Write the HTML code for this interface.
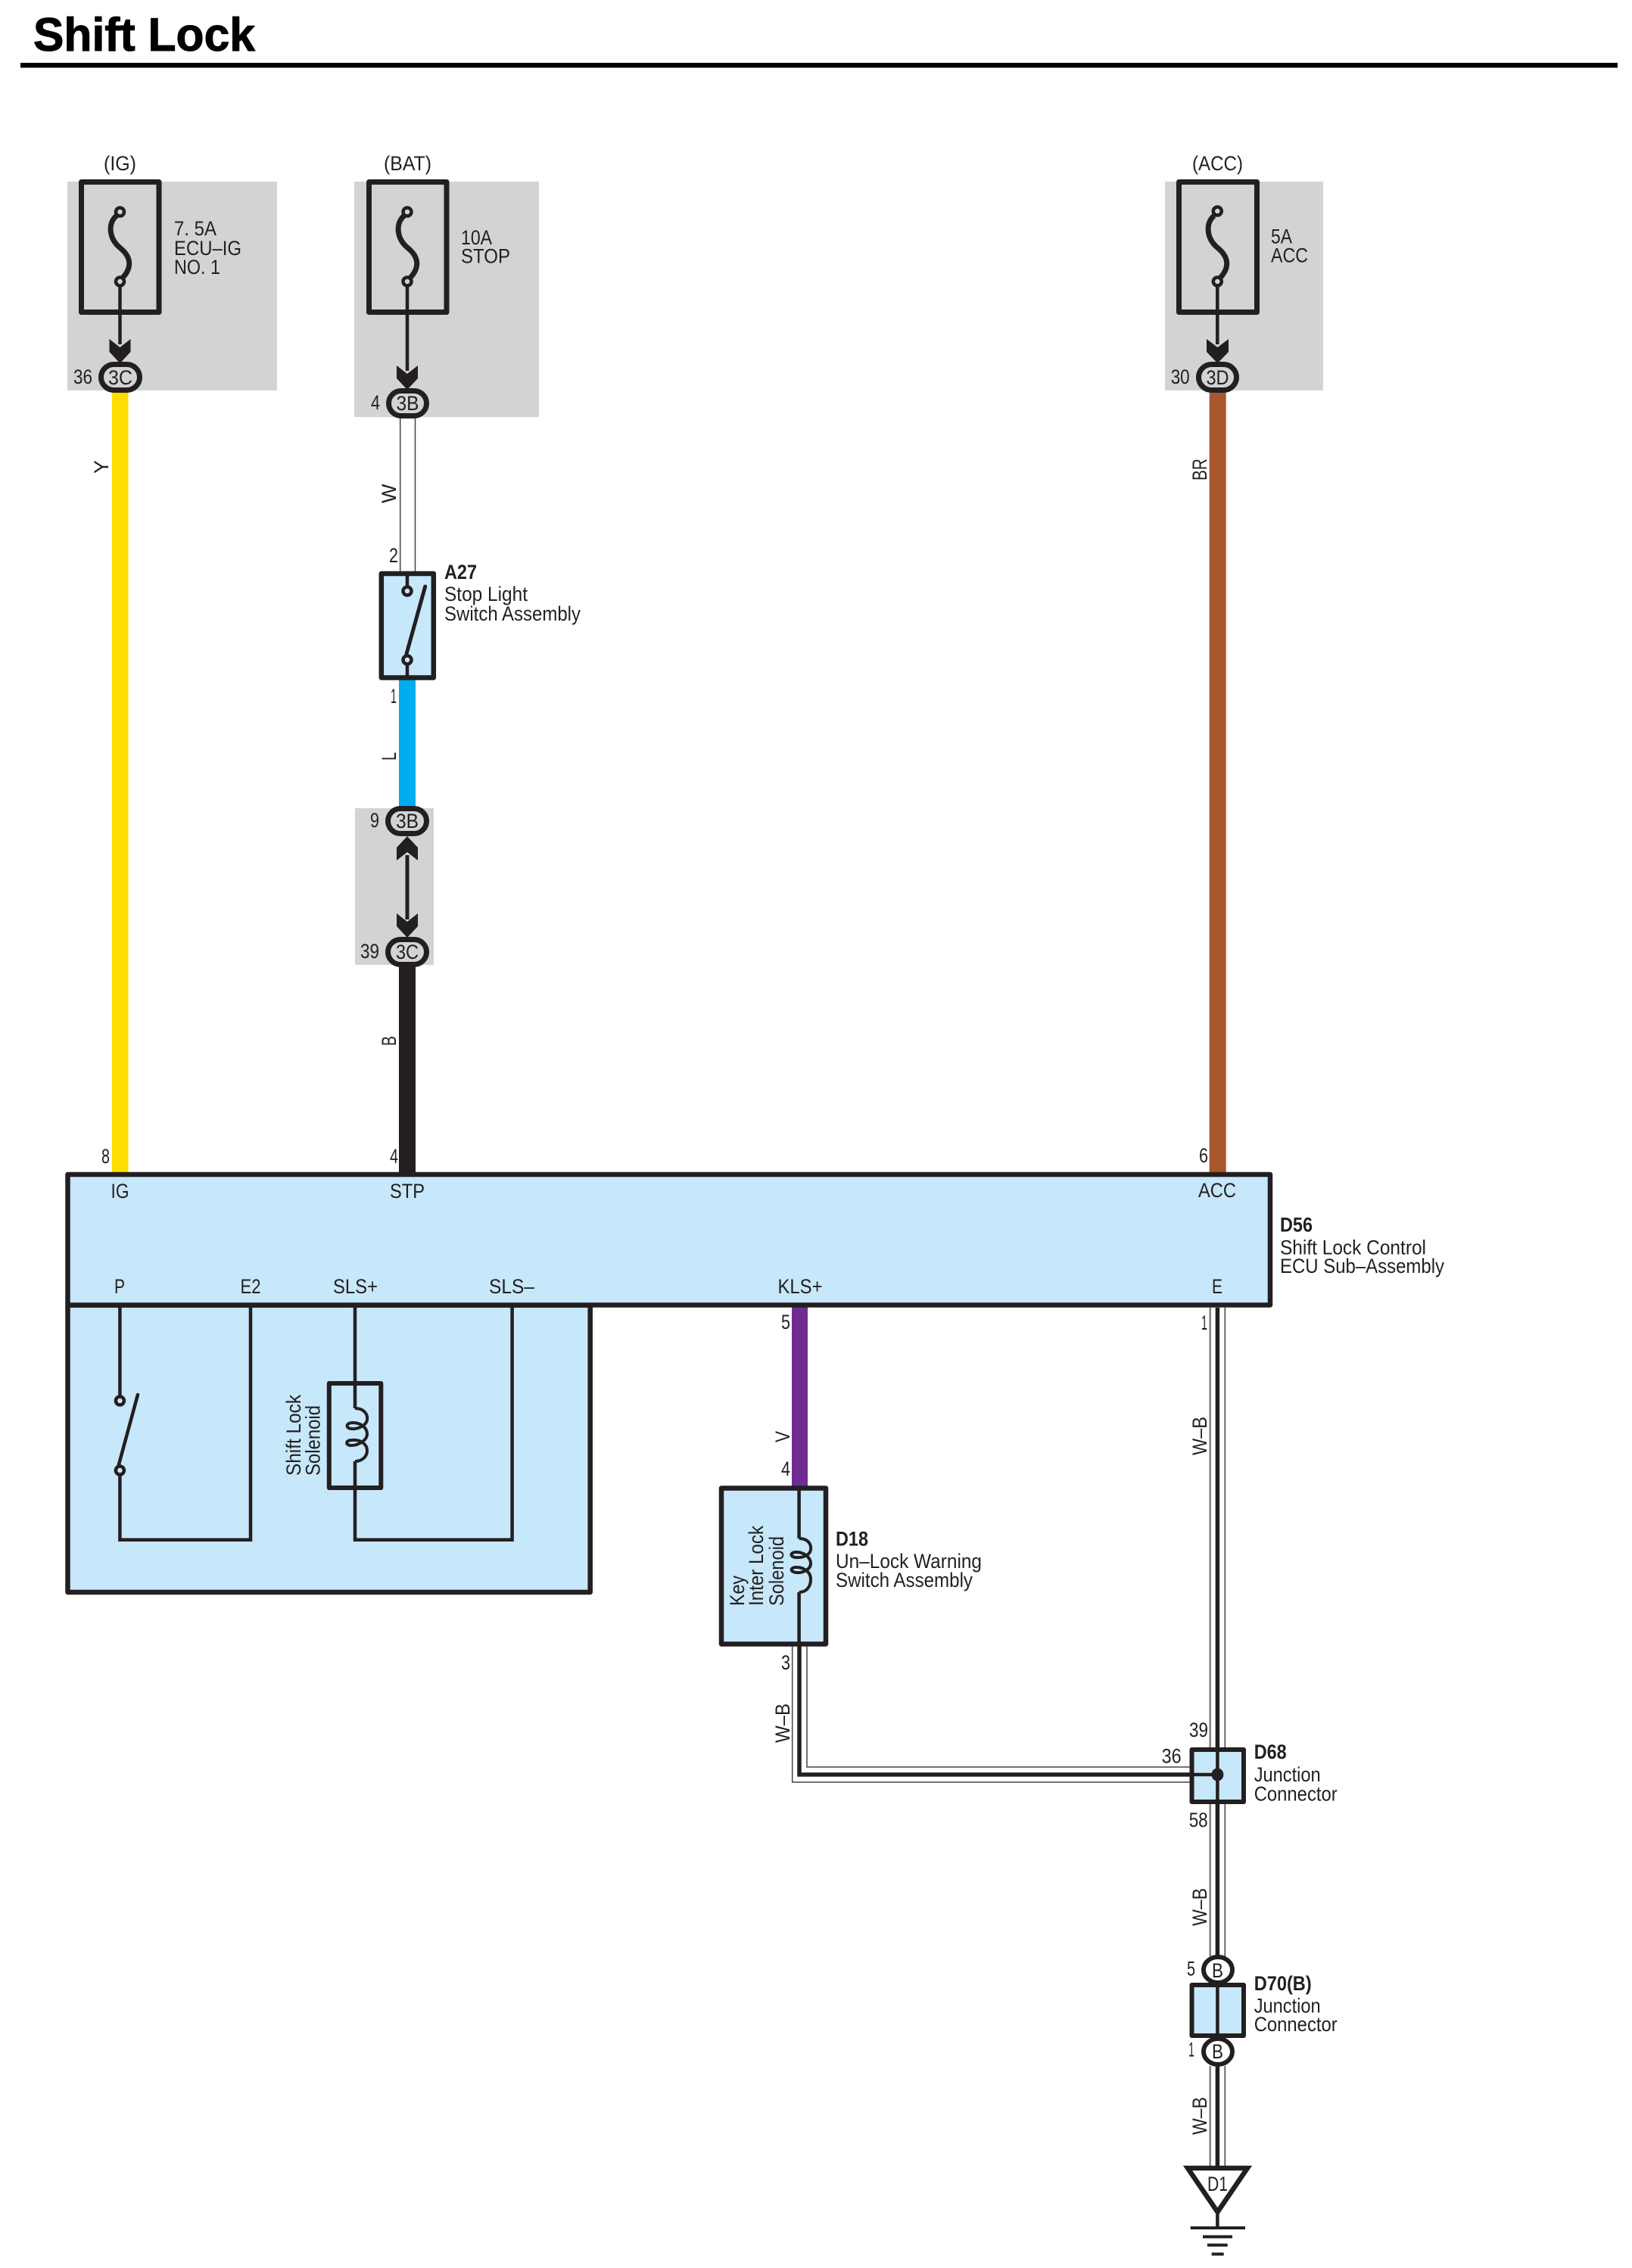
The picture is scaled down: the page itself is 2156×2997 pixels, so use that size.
<!DOCTYPE html>
<html><head><meta charset="utf-8"><title>Shift Lock</title>
<style>
html,body{margin:0;padding:0;background:#fff}
svg{display:block}
text{font-family:"Liberation Sans",sans-serif;font-size:27px;fill:#231f20}
.b{font-weight:bold}
.c{text-anchor:middle}
.w{fill:none;stroke:#231f20;stroke-width:4.5}
</style></head><body>
<svg xmlns="http://www.w3.org/2000/svg" width="2156" height="2997" viewBox="0 0 2156 2997">
<rect width="2156" height="2997" fill="#fff"/>
<!-- title -->
<text x="44" y="67" class="b" style="font-size:62px;fill:#000;stroke:#000;stroke-width:1" textLength="293" lengthAdjust="spacingAndGlyphs">Shift Lock</text>
<rect x="27" y="83" width="2110" height="6.5" fill="#000"/>

<!-- gray zones -->
<rect x="89" y="240" width="277" height="276" fill="#d1d3d4"/>
<rect x="468" y="240" width="244" height="311" fill="#d1d3d4"/>
<rect x="1539" y="240" width="209" height="276" fill="#d1d3d4"/>
<rect x="469" y="1068" width="104" height="207" fill="#d1d3d4"/>

<!-- color wires -->
<rect x="148" y="515" width="21.5" height="1036" fill="#ffdd00"/>
<rect x="1597.7" y="515" width="22" height="1036" fill="#a9572f"/>
<rect x="527" y="895" width="22" height="172" fill="#00aeef"/>
<rect x="527" y="1275" width="22" height="276" fill="#231f20"/>
<rect x="1046" y="1725" width="21" height="240" fill="#6f2c91"/>
<!-- W wire -->
<path d="M528.7 550V756M548.5 550V756" fill="none" stroke="#444" stroke-width="1.5"/>

<!-- fuses -->
<g fill="none" stroke="#231f20">
<rect x="107.5" y="240.5" width="102.5" height="172" stroke-width="7" stroke-linejoin="round"/>
<rect x="487.5" y="240.5" width="102.5" height="172" stroke-width="7" stroke-linejoin="round"/>
<rect x="1557.5" y="240.5" width="103" height="172" stroke-width="7" stroke-linejoin="round"/>
<path d="M154 285C142 295 144 315 158 327C172 338 176 352 162 367" stroke-width="7"/>
<path d="M158.500 377V455" stroke-width="4.500"/>
<path d="M534 285C522 295 524 315 538 327C552 338 556 352 542 367" stroke-width="7"/>
<path d="M538 377V490" stroke-width="4.500"/>
<path d="M1604 285C1592 295 1594 315 1608 327C1622 338 1626 352 1612 367" stroke-width="7"/>
<path d="M1608.300 377V455" stroke-width="4.500"/>
<circle cx="158.500" cy="280" r="5.500" stroke-width="4.500" fill="#d1d3d4"/>
<circle cx="158.500" cy="372" r="5.500" stroke-width="4.500" fill="#d1d3d4"/>
<circle cx="538" cy="280" r="5.500" stroke-width="4.500" fill="#d1d3d4"/>
<circle cx="538" cy="372" r="5.500" stroke-width="4.500" fill="#d1d3d4"/>
<circle cx="1608.300" cy="279" r="5.500" stroke-width="4.500" fill="#d1d3d4"/>
<circle cx="1608.300" cy="372" r="5.500" stroke-width="4.500" fill="#d1d3d4"/>
</g>
<!-- arrows -->
<g fill="#231f20">
<polygon points="144.500,448 158.500,459 172.500,448 172.500,465 158.500,480 144.500,465"/>
<polygon points="524,483 538,494 552,483 552,500 538,515 524,500"/>
<polygon points="1594,448 1608.500,459 1623,448 1623,465 1608.500,480 1594,465"/>
<polygon points="524,1137 538,1126 552,1137 552,1120 538,1105 524,1120"/>
<polygon points="524,1207 538,1218 552,1207 552,1224 538,1239 524,1224"/>
<rect x="535.500" y="1130" width="5" height="85"/>
</g>
<!-- connectors -->
<g fill="#d1d3d4" stroke="#231f20" stroke-width="7">
<rect x="133.500" y="481.500" width="51" height="34" rx="17"/>
<rect x="513.500" y="516.500" width="50" height="33" rx="16.500"/>
<rect x="1583.500" y="481.500" width="50" height="34" rx="17"/>
<rect x="512.500" y="1068.500" width="51" height="33" rx="16.500"/>
<rect x="512.500" y="1241.500" width="51" height="33" rx="16.500"/>
</g>

<!-- ECU body -->
<rect x="89.500" y="1552" width="1588.500" height="172.500" fill="#c7e7fa" stroke="#231f20" stroke-width="6.500" stroke-linejoin="round"/>
<path d="M89.500 1724.700H779.700V2104H89.500Z" fill="#c7e7fa" stroke="#231f20" stroke-width="6.500" stroke-linejoin="round"/>
<!-- ECU internal -->
<path class="w" d="M158.400 1727V1845M158.400 1950V2034.700H331V1727"/>
<circle cx="158.400" cy="1851" r="5.500" fill="#c7e7fa" stroke="#231f20" stroke-width="4.500"/>
<circle cx="158.400" cy="1943" r="5.500" fill="#c7e7fa" stroke="#231f20" stroke-width="4.500"/>
<path d="M182 1843L156.500 1937" fill="none" stroke="#231f20" stroke-width="4.500" stroke-linecap="round"/>
<path class="w" d="M469 1727V1861M469 1931V2034.700H676.600V1727"/>
<rect x="434.800" y="1828" width="68.500" height="138" fill="#c7e7fa" stroke="#231f20" stroke-width="6" stroke-linejoin="round"/>
<path class="w" style="stroke-width:4" d="M469 1861C481 1861 486 1869 485 1876C484 1884 472 1889 464 1888C456 1887 457 1880 466 1880C476 1880 485 1886 485 1895C485 1903 474 1910 464 1910C456 1910 456 1903 465 1903C476 1902 485 1908 485 1917C485 1925 478 1931 469 1931"/>
<path class="w" d="M469 1825V1861M469 1931V1969"/>

<!-- A27 -->
<rect x="503.800" y="758" width="69" height="137.500" fill="#c7e7fa" stroke="#231f20" stroke-width="6.500" stroke-linejoin="round"/>
<path class="w" d="M538 758V775M538 878V896"/>
<circle cx="538" cy="781" r="5.500" fill="#c7e7fa" stroke="#231f20" stroke-width="4.500"/>
<circle cx="538" cy="872" r="5.500" fill="#c7e7fa" stroke="#231f20" stroke-width="4.500"/>
<path d="M561.700 775L537 864" fill="none" stroke="#231f20" stroke-width="5" stroke-linecap="round"/>

<!-- D18 -->
<rect x="953" y="1966.500" width="138" height="206" fill="#c7e7fa" stroke="#231f20" stroke-width="6.500" stroke-linejoin="round"/>
<path class="w" d="M1055.600 1966V2033M1055.600 2104V2175"/>
<path class="w" style="stroke-width:4" d="M1055.600 2033C1067 2033 1072 2040 1071 2048C1070 2055 1060 2059 1051 2058C1043 2057 1044 2051 1052 2051C1062 2051 1071 2058 1071 2066C1071 2074 1060 2079 1052 2078C1043 2077 1044 2071 1052 2071C1062 2071 1071 2077 1071 2087C1071 2096 1066 2104 1055.600 2104"/>

<!-- W-B wires -->
<path d="M1598.700 1728V2309M1598.700 2384V2585M1598.700 2730V2862" fill="none" stroke="#808285" stroke-width="2.500"/>
<path d="M1618.300 1728V2309M1618.300 2384V2585M1618.300 2730V2862" fill="none" stroke="#444" stroke-width="1.500"/>
<path d="M1608.400 1728V2590M1608.400 2725V2862" fill="none" stroke="#231f20" stroke-width="5.500"/>
<path d="M1046.700 2175V2355H1573" fill="none" stroke="#444" stroke-width="1.500"/>
<path d="M1066 2175V2335H1573" fill="none" stroke="#444" stroke-width="1.500"/>
<path d="M1056 2175V2345H1573" fill="none" stroke="#231f20" stroke-width="5.500"/>

<!-- D68 -->
<rect x="1574.500" y="2312" width="68.500" height="69" fill="#c7e7fa" stroke="#231f20" stroke-width="6" stroke-linejoin="round"/>
<path d="M1608.400 2309V2384M1574 2345H1608" fill="none" stroke="#231f20" stroke-width="4.500"/>
<ellipse cx="1608.400" cy="2345" rx="8" ry="8.500" fill="#231f20"/>

<!-- D70 -->
<ellipse cx="1609" cy="2603" rx="19" ry="17" fill="#fff" stroke="#231f20" stroke-width="6"/>
<ellipse cx="1609" cy="2711" rx="19" ry="17" fill="#fff" stroke="#231f20" stroke-width="6"/>
<rect x="1574.500" y="2623" width="68.500" height="67" fill="#c7e7fa" stroke="#231f20" stroke-width="6" stroke-linejoin="round"/>
<path d="M1608.400 2620V2693" fill="none" stroke="#231f20" stroke-width="4.500"/>

<!-- ground -->
<polygon points="1569,2865 1648,2865 1608.500,2923" fill="#fff" stroke="#231f20" stroke-width="6.500" stroke-linejoin="miter"/>
<path d="M1608.400 2925V2944" fill="none" stroke="#231f20" stroke-width="4.500"/>
<g fill="#231f20">
<rect x="1572.700" y="2942" width="72.300" height="4"/>
<rect x="1589" y="2953.700" width="39" height="4"/>
<rect x="1595" y="2964.700" width="26.700" height="4"/>
<rect x="1600.700" y="2976.600" width="16" height="4"/>
</g>

<!-- labels -->
<text x="158.500" y="225" class="c" textLength="43" lengthAdjust="spacingAndGlyphs">(IG)</text>
<text x="538.500" y="225" class="c" textLength="63" lengthAdjust="spacingAndGlyphs">(BAT)</text>
<text x="1608.500" y="225" class="c" textLength="67" lengthAdjust="spacingAndGlyphs">(ACC)</text>
<text x="230" y="311" textLength="56" lengthAdjust="spacingAndGlyphs">7. 5A</text>
<text x="230" y="337" textLength="89" lengthAdjust="spacingAndGlyphs">ECU–IG</text>
<text x="230" y="362" textLength="61" lengthAdjust="spacingAndGlyphs">NO. 1</text>
<text x="609" y="323" textLength="41" lengthAdjust="spacingAndGlyphs">10A</text>
<text x="609" y="347.500" textLength="65" lengthAdjust="spacingAndGlyphs">STOP</text>
<text x="1679" y="321.700" textLength="28" lengthAdjust="spacingAndGlyphs">5A</text>
<text x="1679" y="346.700" textLength="49" lengthAdjust="spacingAndGlyphs">ACC</text>
<text x="97" y="507" textLength="25" lengthAdjust="spacingAndGlyphs">36</text>
<text x="159" y="508" class="c" textLength="32" lengthAdjust="spacingAndGlyphs">3C</text>
<text x="490" y="541" textLength="12" lengthAdjust="spacingAndGlyphs">4</text>
<text x="538.500" y="542" class="c" textLength="30" lengthAdjust="spacingAndGlyphs">3B</text>
<text x="1546.700" y="507" textLength="25" lengthAdjust="spacingAndGlyphs">30</text>
<text x="1608.500" y="508" class="c" textLength="30" lengthAdjust="spacingAndGlyphs">3D</text>
<text x="489" y="1093" textLength="12" lengthAdjust="spacingAndGlyphs">9</text>
<text x="538" y="1094" class="c" textLength="30" lengthAdjust="spacingAndGlyphs">3B</text>
<text x="476" y="1266" textLength="25" lengthAdjust="spacingAndGlyphs">39</text>
<text x="538" y="1267" class="c" textLength="30" lengthAdjust="spacingAndGlyphs">3C</text>
<text x="514" y="743" textLength="12" lengthAdjust="spacingAndGlyphs">2</text>
<text x="516" y="929" textLength="8" lengthAdjust="spacingAndGlyphs">1</text>
<text x="587" y="765" class="b" textLength="43" lengthAdjust="spacingAndGlyphs">A27</text>
<text x="587" y="794" textLength="110" lengthAdjust="spacingAndGlyphs">Stop Light</text>
<text x="587" y="820" textLength="180" lengthAdjust="spacingAndGlyphs">Switch Assembly</text>
<text x="134" y="1537" textLength="11" lengthAdjust="spacingAndGlyphs">8</text>
<text x="515" y="1537" textLength="11" lengthAdjust="spacingAndGlyphs">4</text>
<text x="1584" y="1536" textLength="12" lengthAdjust="spacingAndGlyphs">6</text>
<text x="158.500" y="1583" class="c" textLength="24" lengthAdjust="spacingAndGlyphs">IG</text>
<text x="538" y="1583" class="c" textLength="46" lengthAdjust="spacingAndGlyphs">STP</text>
<text x="1608" y="1582" class="c" textLength="50" lengthAdjust="spacingAndGlyphs">ACC</text>
<text x="158" y="1709" class="c" textLength="14" lengthAdjust="spacingAndGlyphs">P</text>
<text x="331" y="1709" class="c" textLength="27" lengthAdjust="spacingAndGlyphs">E2</text>
<text x="469.500" y="1709" class="c" textLength="59" lengthAdjust="spacingAndGlyphs">SLS+</text>
<text x="676" y="1709" class="c" textLength="60" lengthAdjust="spacingAndGlyphs">SLS–</text>
<text x="1057" y="1709" class="c" textLength="59" lengthAdjust="spacingAndGlyphs">KLS+</text>
<text x="1608" y="1709" class="c" textLength="14" lengthAdjust="spacingAndGlyphs">E</text>
<text x="1691" y="1627.700" class="b" textLength="43" lengthAdjust="spacingAndGlyphs">D56</text>
<text x="1691" y="1657.700" textLength="193" lengthAdjust="spacingAndGlyphs">Shift Lock Control</text>
<text x="1691" y="1682" textLength="217" lengthAdjust="spacingAndGlyphs">ECU Sub–Assembly</text>
<text x="1032" y="1756" textLength="12" lengthAdjust="spacingAndGlyphs">5</text>
<text x="1032" y="1950" textLength="12" lengthAdjust="spacingAndGlyphs">4</text>
<text x="1032" y="2206" textLength="12" lengthAdjust="spacingAndGlyphs">3</text>
<text x="1587" y="1757" textLength="8" lengthAdjust="spacingAndGlyphs">1</text>
<text x="1104" y="2042.500" class="b" textLength="43" lengthAdjust="spacingAndGlyphs">D18</text>
<text x="1104" y="2072" textLength="193" lengthAdjust="spacingAndGlyphs">Un–Lock Warning</text>
<text x="1104" y="2097" textLength="181" lengthAdjust="spacingAndGlyphs">Switch Assembly</text>
<text x="1571" y="2295" textLength="25" lengthAdjust="spacingAndGlyphs">39</text>
<text x="1534.600" y="2329.500" textLength="26" lengthAdjust="spacingAndGlyphs">36</text>
<text x="1570.700" y="2414" textLength="25" lengthAdjust="spacingAndGlyphs">58</text>
<text x="1656.700" y="2324" class="b" textLength="43" lengthAdjust="spacingAndGlyphs">D68</text>
<text x="1656.700" y="2354" textLength="88" lengthAdjust="spacingAndGlyphs">Junction</text>
<text x="1656.700" y="2379.500" textLength="110" lengthAdjust="spacingAndGlyphs">Connector</text>
<text x="1568" y="2610.500" textLength="11" lengthAdjust="spacingAndGlyphs">5</text>
<text x="1570" y="2717.600" textLength="8" lengthAdjust="spacingAndGlyphs">1</text>
<text x="1608.500" y="2613" class="c" textLength="15" lengthAdjust="spacingAndGlyphs">B</text>
<text x="1608.500" y="2720" class="c" textLength="15" lengthAdjust="spacingAndGlyphs">B</text>
<text x="1656.700" y="2630" class="b" textLength="76" lengthAdjust="spacingAndGlyphs">D70(B)</text>
<text x="1656.700" y="2659.500" textLength="88" lengthAdjust="spacingAndGlyphs">Junction</text>
<text x="1656.700" y="2684" textLength="110" lengthAdjust="spacingAndGlyphs">Connector</text>
<text x="1608.500" y="2895" class="c" textLength="27" lengthAdjust="spacingAndGlyphs">D1</text>

<!-- rotated labels -->
<text transform="translate(143,626) rotate(-90)">Y</text>
<text transform="translate(523,665) rotate(-90)">W</text>
<text transform="translate(523,1005) rotate(-90)" textLength="11" lengthAdjust="spacingAndGlyphs">L</text>
<text transform="translate(523,1382) rotate(-90)" textLength="13" lengthAdjust="spacingAndGlyphs">B</text>
<text transform="translate(1594,635) rotate(-90)" textLength="29" lengthAdjust="spacingAndGlyphs">BR</text>
<text transform="translate(1043,1906) rotate(-90)" textLength="15" lengthAdjust="spacingAndGlyphs">V</text>
<text transform="translate(1594,1923) rotate(-90)" textLength="51" lengthAdjust="spacingAndGlyphs">W–B</text>
<text transform="translate(1043,2303) rotate(-90)" textLength="52" lengthAdjust="spacingAndGlyphs">W–B</text>
<text transform="translate(1594,2545) rotate(-90)" textLength="50" lengthAdjust="spacingAndGlyphs">W–B</text>
<text transform="translate(1594,2821) rotate(-90)" textLength="50" lengthAdjust="spacingAndGlyphs">W–B</text>
<text transform="translate(397,1950) rotate(-90)" textLength="107" lengthAdjust="spacingAndGlyphs">Shift Lock</text>
<text transform="translate(422.600,1950) rotate(-90)" textLength="93" lengthAdjust="spacingAndGlyphs">Solenoid</text>
<text transform="translate(983,2122) rotate(-90)" textLength="40" lengthAdjust="spacingAndGlyphs">Key</text>
<text transform="translate(1008,2122) rotate(-90)" textLength="106" lengthAdjust="spacingAndGlyphs">Inter Lock</text>
<text transform="translate(1035,2122) rotate(-90)" textLength="92" lengthAdjust="spacingAndGlyphs">Solenoid</text>
</svg>
</body></html>
